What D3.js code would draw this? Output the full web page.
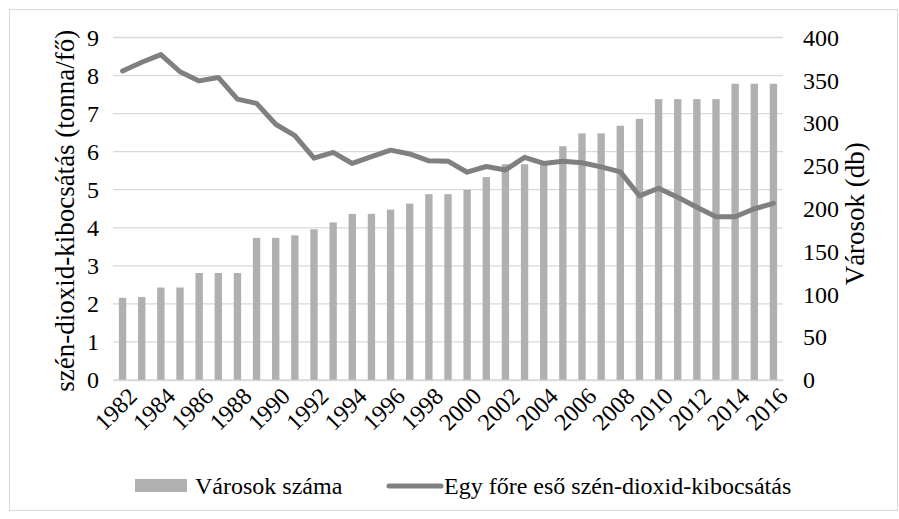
<!DOCTYPE html>
<html>
<head>
<meta charset="utf-8">
<script src="https://cdn.jsdelivr.net/npm/d3@7"></script>
<style>
  html, body { margin: 0; padding: 0; background: #fff; }
  svg { display: block; }
  svg text { font-family: 'Liberation Serif'; fill: #000; }
</style>
</head>
<body>
<svg id="chart" width="899" height="519"></svg>
<script>
const years = [1982,1983,1984,1985,1986,1987,1988,1989,1990,1991,1992,1993,1994,1995,1996,1997,1998,1999,2000,2001,2002,2003,2004,2005,2006,2007,2008,2009,2010,2011,2012,2013,2014,2015,2016];
const cities = [96,97,108,108,125,125,125,166,166,169,176,184,194,194,199,206,217,217,222,237,252,252,252,273,288,288,297,305,328,328,328,328,346,346,346];
const co2 = [8.12,8.35,8.55,8.10,7.86,7.95,7.38,7.27,6.72,6.42,5.83,5.98,5.69,5.87,6.04,5.94,5.76,5.75,5.46,5.61,5.52,5.85,5.69,5.75,5.71,5.60,5.47,4.84,5.04,4.80,4.54,4.29,4.29,4.50,4.64];
const leftTicks = [0,1,2,3,4,5,6,7,8,9];
const rightTicks = [0,50,100,150,200,250,300,350,400];
const xLabels = years.filter(y => y % 2 === 0);
const leftTitle = "szén-dioxid-kibocsátás (tonna/fő)";
const rightTitle = "Városok (db)";
const legendBar = "Városok száma";
const legendLine = "Egy főre eső szén-dioxid-kibocsátás";

const FONT = "'Liberation Serif'";
const svg = d3.select("#chart");
const L = 113, R = 783, T = 37.5, B = 380;

svg.append("rect").attr("x", 9.5).attr("y", 9.5).attr("width", 888).attr("height", 501)
  .attr("fill", "#fff").attr("stroke", "#d9d9d9").attr("stroke-width", 1);

const x = d3.scaleBand().domain(years).range([L, R]).paddingInner(0.615).paddingOuter(0.3075);
const yL = d3.scaleLinear().domain([0, 9]).range([B, T]);
const yR = d3.scaleLinear().domain([0, 400]).range([B, T]);

// gridlines
svg.append("g").selectAll("line").data(leftTicks).join("line")
  .attr("x1", L).attr("x2", R)
  .attr("y1", d => yL(d)).attr("y2", d => yL(d))
  .attr("stroke", "#d9d9d9").attr("stroke-width", 1.3);

// bars
svg.append("g").selectAll("rect").data(years).join("rect")
  .attr("x", d => x(d)).attr("width", x.bandwidth())
  .attr("y", (d, i) => yR(cities[i])).attr("height", (d, i) => B - yR(cities[i]))
  .attr("fill", "#b0b0b0");

// line
const line = d3.line().x((d, i) => x(years[i]) + x.bandwidth() / 2).y(d => yL(d));
svg.append("path").datum(co2).attr("d", line)
  .attr("fill", "none").attr("stroke", "#808080").attr("stroke-width", 5)
  .attr("stroke-linejoin", "round").attr("stroke-linecap", "round");

function styleText(sel, size) {
  sel.style("font-size", size + "px").style("fill", "#000").style("font-family", FONT);
}

// left axis
const axL = svg.append("g").attr("transform", `translate(${L},0)`)
  .call(d3.axisLeft(yL).tickValues(leftTicks).tickSize(0).tickPadding(14));
axL.select(".domain").remove();
axL.attr("font-family", null).attr("font-size", null);
styleText(axL.selectAll("text"), 24);

// right axis
const axR = svg.append("g").attr("transform", `translate(${R},0)`)
  .call(d3.axisRight(yR).tickValues(rightTicks).tickSize(0).tickPadding(20));
axR.select(".domain").remove();
axR.attr("font-family", null).attr("font-size", null);
styleText(axR.selectAll("text"), 24);

// bottom axis
const axB = svg.append("g").attr("transform", `translate(0,${B})`)
  .call(d3.axisBottom(x).tickValues(xLabels).tickSize(0).tickFormat(d3.format("d")));
axB.attr("font-family", null).attr("font-size", null);
axB.select(".domain").attr("stroke", "#d9d9d9").attr("stroke-width", 1.3);
styleText(axB.selectAll("text"), 24);
axB.selectAll("text")
  .attr("text-anchor", "end")
  .attr("transform", "translate(4,6) rotate(-45)")
  .attr("x", 0).attr("y", 0).attr("dy", "0.7em");

// titles
styleText(svg.append("text").attr("transform", `translate(74,${(T + B) / 2 + 2}) rotate(-90)`)
  .attr("text-anchor", "middle").text(leftTitle), 27);
styleText(svg.append("text").attr("transform", `translate(864,${(T + B) / 2 + 5}) rotate(-90)`)
  .attr("text-anchor", "middle").text(rightTitle), 27);

// legend
const lg = svg.append("g");
lg.append("rect").attr("x", 135).attr("y", 479).attr("width", 52).attr("height", 13).attr("fill", "#b0b0b0");
styleText(lg.append("text").attr("x", 195).attr("y", 494).text(legendBar), 24);
lg.append("line").attr("x1", 389).attr("x2", 441).attr("y1", 486).attr("y2", 486)
  .attr("stroke", "#808080").attr("stroke-width", 5).attr("stroke-linecap", "round");
styleText(lg.append("text").attr("x", 444).attr("y", 494).text(legendLine), 24);
</script>
</body>
</html>
